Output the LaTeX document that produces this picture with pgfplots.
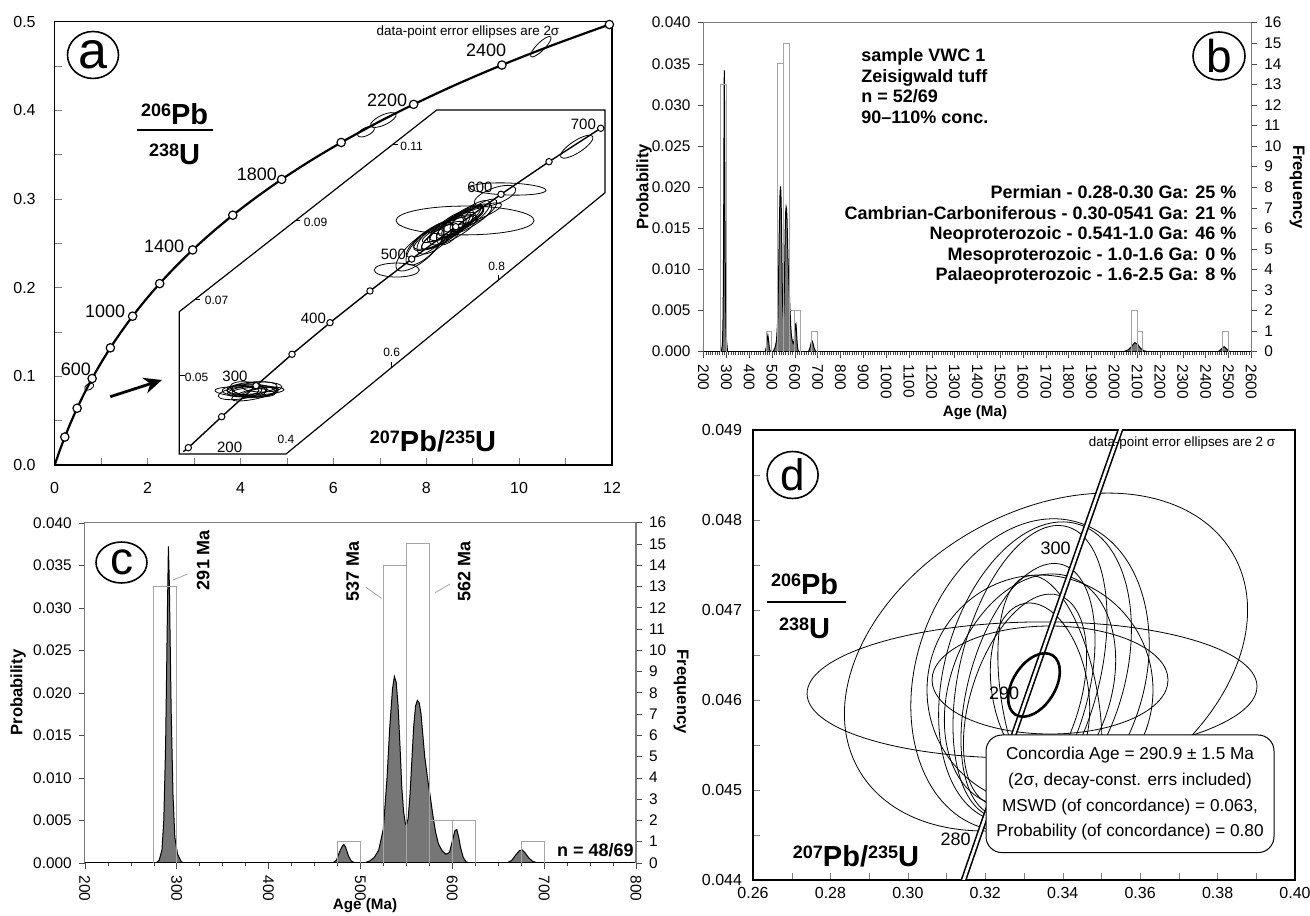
\documentclass[border=0pt]{standalone}
\usepackage{fontspec}
\setmainfont{Liberation Sans}
\usepackage{pgfplots}
\pgfplotsset{compat=1.18}
\usetikzlibrary{arrows.meta,shapes.geometric}

\definecolor{pdfill}{RGB}{118,118,118}
\definecolor{bargray}{RGB}{165,165,165}
\definecolor{framegray}{RGB}{125,125,125}

\newcommand{\fs}[1]{\fontsize{#1}{#1}\selectfont}
\newcommand{\isup}[1]{\raisebox{0.28em}{\fontsize{9}{9}\selectfont #1}}
% error ellipse: x, y (axis units), semi-axes (pt), rotation (deg)
\newcommand{\elp}[5]{\draw[line width=0.4pt, rotate around={#5:(axis cs:#1,#2)}] (axis cs:#1,#2) ellipse [x radius=#3pt, y radius=#4pt];}

\pgfplotsset{
  every axis/.append style={scale only axis, anchor=south west, scaled ticks=false,
    /pgf/number format/assume math mode=true,
    tick label style={font=\fs{8}},
    axis line style={line width=0.6pt}},
  histo/.style={xmin=200, ymin=0, ymax=0.04, xtick distance=100, ytick distance=0.005,
    tick align=outside, tick pos=left, axis line style={framegray},
    every tick/.append style={black!70}, major tick length=3pt, minor tick length=1.6pt,
    xticklabel style={rotate=-90, anchor=west, /pgf/number format/1000 sep={}},
    yticklabel style={/pgf/number format/fixed, /pgf/number format/fixed zerofill,
      /pgf/number format/precision=3},
    tick label style={font=\fs{7.7}}},
  freq/.style={xmin=200, ymin=0, ymax=16, ytick distance=1, axis x line=none,
    axis y line*=right, tick align=outside, axis line style={framegray},
    every tick/.append style={black!70}, major tick length=3pt, tick label style={font=\fs{7.7}}},
  bar/.style={bargray, line width=0.5pt},
}

\begin{document}
\begin{tikzpicture}
\useasboundingbox (0,0) rectangle (655pt,457.5pt);

%% ---------------- panel a ----------------
\begin{axis}[at={(27.35pt,225pt)}, width=278.65pt, height=221.65pt,
  xmin=0, xmax=12, ymin=0, ymax=0.5,
  xtick={0,2,4,6,8,10,12}, ytick={0,0.1,0.2,0.3,0.4,0.5},
  minor x tick num=1, minor y tick num=1,
  tick align=inside, tick pos=left, major tick length=3.5pt, minor tick length=3.5pt,
  yticklabel style={/pgf/number format/fixed, /pgf/number format/fixed zerofill,
    /pgf/number format/precision=1, xshift=-6pt},
  xticklabel style={yshift=-5pt}]
% inset frame
\addplot[black, line width=0.6pt] coordinates {(2.683,0.1729) (8.226,0.4004) (11.85,0.4004)
  (11.85,0.3071) (4.981,0.01241) (2.683,0.01241) (2.683,0.1729)};
\draw[line width=0.5pt] (axis cs:2.683,0.1004) -- (axis cs:2.806,0.1004);
\draw[line width=0.5pt] (axis cs:3.021,0.1868) -- (axis cs:3.129,0.1868);
\draw[line width=0.5pt] (axis cs:5.174,0.2752) -- (axis cs:5.282,0.2752);
\draw[line width=0.5pt] (axis cs:7.285,0.3618) -- (axis cs:7.393,0.3618);
\draw[line width=0.5pt] (axis cs:7.257,0.1101) -- (axis cs:7.257,0.1157);
\draw[line width=0.5pt] (axis cs:9.552,0.2085) -- (axis cs:9.552,0.2142);
% inset ellipses near 300 Ma
\elp{4.210}{0.0838}{14}{3}{0}
\elp{4.098}{0.0823}{15}{2.5}{-3}
\elp{4.248}{0.0868}{12.5}{3}{5}
\elp{4.464}{0.0880}{10}{2.5}{0}
\elp{3.990}{0.0812}{11}{3}{8}
\elp{4.313}{0.0801}{12}{2.5}{12}
\elp{4.162}{0.0857}{9}{3.5}{-8}
\elp{4.377}{0.0835}{13}{2}{3}
\elp{4.150}{0.0830}{10}{2.5}{6}
\elp{4.280}{0.0845}{11}{3}{-4}
\elp{4.050}{0.0840}{8}{2.5}{0}
\elp{4.400}{0.0815}{9}{2}{10}
% inset ellipses 500-700 Ma
\elp{8.836}{0.2758}{34.5}{7.2}{0}
\elp{9.761}{0.3113}{19}{3}{-2}
\elp{9.481}{0.3034}{11}{4}{20}
\elp{7.364}{0.2199}{11.3}{3.5}{0}
\elp{8.081}{0.2538}{14}{4.5}{35}
\elp{8.297}{0.2605}{15}{4}{30}
\elp{8.512}{0.2673}{12.5}{4.5}{38}
\elp{8.728}{0.2741}{14}{3.5}{33}
\elp{8.943}{0.2808}{12}{4}{36}
\elp{8.404}{0.2628}{17.5}{5}{25}
\elp{8.620}{0.2707}{16}{3}{30}
\elp{8.189}{0.2560}{11}{5}{40}
\elp{8.836}{0.2763}{15}{4.5}{28}
\elp{7.973}{0.2470}{12.5}{5}{45}
\elp{9.159}{0.2854}{10}{3.5}{35}
\elp{7.866}{0.2425}{15}{5.5}{40}
\elp{9.051}{0.2831}{14}{3}{20}
\elp{8.512}{0.2651}{9}{4.5}{50}
\elp{8.350}{0.2590}{12}{3.5}{32}
\elp{8.570}{0.2690}{13}{4}{28}
\elp{8.780}{0.2780}{11}{3.5}{34}
\elp{8.250}{0.2570}{10}{3}{36}
\elp{8.680}{0.2720}{10}{4}{40}
\elp{8.460}{0.2660}{14}{3}{26}
\elp{8.900}{0.2790}{9}{3}{30}
\elp{11.240}{0.3590}{9.5}{3}{33}
% inset concordia
\addplot[black, line width=0.7pt] coordinates {(2.769,0.0150) (2.877,0.01951) (3.596,0.05448)
  (4.335,0.08944) (5.110,0.1249) (5.928,0.1605) (6.789,0.1963) (7.687,0.2323) (8.635,0.2688)
  (9.610,0.3053) (10.644,0.3421) (11.757,0.3798)};
\addplot[only marks, mark=*, mark size=1.6pt, mark options={fill=white, draw=black, line width=0.5pt}]
  coordinates {(2.877,0.01951) (3.596,0.05448) (4.335,0.08944) (5.110,0.1249) (5.928,0.1605)
  (6.789,0.1963) (7.687,0.2323) (8.635,0.2688) (9.610,0.3053) (10.644,0.3421) (11.757,0.3798)};
% main concordia
\elp{7.076}{0.3891}{7}{2.5}{25}
\elp{6.703}{0.3759}{4.5}{2}{25}
\elp{10.467}{0.4718}{7}{2}{45}
\elp{0.743}{0.0883}{2.5}{1.5}{30}
\addplot[black, line width=1.1pt, smooth] coordinates {
  (0,0) (0.1035,0.015633) (0.2177,0.031510) (0.3438,0.047637) (0.4828,0.064022)
  (0.6363,0.080650) (0.8056,0.097544) (0.9925,0.114702) (1.1987,0.132133) (1.4263,0.149828)
  (1.6774,0.167810) (1.9545,0.186052) (2.2603,0.204592) (2.5977,0.223425) (2.9701,0.242565)
  (3.3810,0.261971) (3.8344,0.281728) (4.3348,0.301738) (4.8869,0.322125) (5.4962,0.342771)
  (6.1685,0.363748) (6.9105,0.385108) (7.7292,0.406736) (8.6326,0.428806) (9.6296,0.451110)
  (10.7297,0.473722) (11.9434,0.496816)};
\addplot[only marks, mark=*, mark size=2.1pt, mark options={fill=white, draw=black, line width=0.6pt}]
  coordinates {(0.2177,0.031510) (0.4828,0.064022) (0.8056,0.097544) (1.1987,0.132133)
  (1.6774,0.167810) (2.2603,0.204592) (2.9701,0.242565) (3.8344,0.281728) (4.8869,0.322125)
  (6.1685,0.363748) (7.7292,0.406736) (9.6296,0.451110) (11.9434,0.496816)};
\end{axis}

\node[ellipse, draw, line width=0.8pt, minimum width=25.5pt, minimum height=23.5pt, inner sep=0pt, font=\fs{26}] at (46.5pt,430pt) {a};
\node[font=\fs{6.7}] at (234pt,441.7pt) {data-point error ellipses are 2σ};
\begin{scope}[every node/.style={font=\fs{9}}]
\node at (37.9pt,272.8pt) {600};
\node at (52.6pt,301.7pt) {1000};
\node at (82.1pt,334.5pt) {1400};
\node at (128.4pt,370.5pt) {1800};
\node at (193.6pt,407.5pt) {2200};
\node at (243.1pt,432.2pt) {2400};
\end{scope}
\begin{scope}[every node/.style={font=\fs{7.5}}]
\node[anchor=west] at (105pt,233.7pt) {200};
\node at (117.5pt,269.2pt) {300};
\node at (156.7pt,298.3pt) {400};
\node at (196.7pt,330.5pt) {500};
\node at (240pt,363.8pt) {600};
\node at (291.7pt,395.5pt) {700};
\end{scope}
\begin{scope}[every node/.style={font=\fs{6}}]
\node at (98.3pt,268.6pt) {0.05};
\node at (108.3pt,307.5pt) {0.07};
\node at (157.8pt,346.2pt) {0.09};
\node at (205.8pt,384.2pt) {0.11};
\node at (143pt,238pt) {0.4};
\node at (195.8pt,281.2pt) {0.6};
\node at (248.3pt,324.2pt) {0.8};
\end{scope}
\node[anchor=base, font=\bfseries\fs{14.5}] at (87.3pt,395pt) {\isup{206}Pb};
\draw[line width=1pt] (68.4pt,392.5pt) -- (106.3pt,392.5pt);
\node[anchor=base, font=\bfseries\fs{14.5}] at (87.3pt,375pt) {\isup{238}U};
\node[anchor=base, font=\bfseries\fs{14.5}] at (216.5pt,231.7pt) {\isup{207}Pb/\isup{235}U};
\draw[line width=1.4pt, -{Stealth[length=9pt,width=8pt]}] (55.15pt,259.15pt) -- (81pt,267.5pt);

%% ---------------- panel b ----------------
\begin{axis}[histo, at={(351.75pt,281.65pt)}, width=273.85pt, height=164.5pt,
  xmax=2600, minor x tick num=9]
\addplot[draw=black, line width=0.5pt, fill=pdfill] coordinates {
  (200,0) (278,0) (283,0.0009) (286,0.0046) (288,0.0129) (290,0.0276) (291,0.0342) (292,0.0304)
  (294,0.0166) (296,0.0074) (299,0.0020) (305,0.0001) (308,0) (470,0) (475,0.0005) (480,0.0017)
  (482,0.0020) (485,0.0014) (489,0.0003) (494,0) (505,0) (515,0.0006) (520,0.0014) (525,0.0037)
  (529,0.0092) (532,0.0147) (535,0.0189) (537,0.0201) (539,0.0195) (541,0.0170) (543,0.0129)
  (545,0.0083) (547,0.0055) (550,0.0040) (552,0.0048) (554,0.0074) (556,0.0110) (558,0.0147)
  (560,0.0169) (562,0.0176) (564,0.0173) (566,0.0161) (568,0.0138) (570,0.0115) (573,0.0092)
  (576,0.0072) (579,0.0051) (582,0.0032) (585,0.0020) (589,0.0013) (593,0.0010) (597,0.0013)
  (600,0.0024) (603,0.0033) (605,0.0034) (607,0.0027) (609,0.0016) (612,0.0005) (615,0.0001)
  (618,0) (660,0) (667,0.0005) (672,0.0011) (676,0.0013) (680,0.0010) (684,0.0005) (690,0.0001)
  (694,0) (2040,0) (2060,0.0002) (2075,0.0006) (2090,0.0011) (2102,0.0009) (2115,0.0004)
  (2130,0.0001) (2150,0) (2455,0) (2465,0.0002) (2475,0.0005) (2482,0.0006) (2490,0.0004)
  (2500,0.0001) (2510,0) (2600,0)} \closedcycle;
\end{axis}
\begin{axis}[freq, at={(351.75pt,281.65pt)}, width=273.85pt, height=164.5pt, xmax=2600]
\addplot[bar] coordinates {(275,0) (275,13) (300,13) (300,0)};
\addplot[bar] coordinates {(475,0) (475,1) (500,1) (500,0)};
\addplot[bar] coordinates {(525,0) (525,14) (550,14) (550,0)};
\addplot[bar] coordinates {(550,0) (550,15) (575,15) (575,0)};
\addplot[bar] coordinates {(575,0) (575,2) (600,2) (600,0)};
\addplot[bar] coordinates {(600,0) (600,2) (625,2) (625,0)};
\addplot[bar] coordinates {(675,0) (675,1) (700,1) (700,0)};
\addplot[bar] coordinates {(2075,0) (2075,2) (2100,2) (2100,0)};
\addplot[bar] coordinates {(2100,0) (2100,1) (2125,1) (2125,0)};
\addplot[bar] coordinates {(2475,0) (2475,1) (2500,1) (2500,0)};
\end{axis}
\node[ellipse, draw, line width=0.8pt, minimum width=26pt, minimum height=24pt, inner sep=0pt, font=\fs{23}] at (609.5pt,429.5pt) {b};
\begin{scope}[every node/.style={font=\bfseries\fs{9}, inner sep=0pt}]
\node[anchor=base west] at (430.5pt,426.8pt) {sample VWC 1};
\node[anchor=base west] at (430.5pt,416.4pt) {Zeisigwald tuff};
\node[anchor=base west] at (430.5pt,406.1pt) {n = 52/69};
\node[anchor=base west] at (430.5pt,395.9pt) {90--110\% conc.};
\node[anchor=base east] at (618.4pt,358pt) {Permian - 0.28-0.30 Ga: 25 \%};
\node[anchor=base east] at (618.4pt,347.6pt) {Cambrian-Carboniferous - 0.30-0541 Ga: 21 \%};
\node[anchor=base east] at (618.4pt,337.6pt) {Neoproterozoic - 0.541-1.0 Ga: 46 \%};
\node[anchor=base east] at (618.4pt,327.3pt) {Mesoproterozoic - 1.0-1.6 Ga: 0 \%};
\node[anchor=base east] at (618.4pt,317.3pt) {Palaeoproterozoic - 1.6-2.5 Ga: 8 \%};
\end{scope}
\node[rotate=90, font=\bfseries\fs{8.3}] at (322pt,364pt) {Probability};
\node[rotate=-90, font=\bfseries\fs{8.3}] at (648.5pt,364pt) {Frequency};
\node[font=\bfseries\fs{7.6}] at (487.5pt,251pt) {Age (Ma)};

%% ---------------- panel c ----------------
\begin{axis}[histo, at={(42.4pt,26.15pt)}, width=275.6pt, height=170pt,
  xmax=800, minor x tick num=3]
\addplot[draw=black, line width=0.5pt, fill=pdfill] coordinates {
  (200,0) (278,0) (281,0.0003) (284,0.0015) (286,0.0050) (288,0.0140) (290,0.0300) (291,0.0372)
  (292,0.0330) (294,0.0180) (296,0.0080) (298,0.0030) (301,0.0010) (305,0.0001) (308,0)
  (470,0) (474,0.0003) (477,0.0012) (480,0.0019) (482,0.00215) (484,0.0018) (487,0.0008)
  (490,0.0002) (494,0) (505,0) (510,0.0002) (515,0.0006) (520,0.0015) (525,0.0040) (529,0.0100)
  (532,0.0160) (535,0.0205) (537,0.0219) (539,0.0212) (541,0.0185) (543,0.0140) (545,0.0090)
  (547,0.0060) (549,0.0046) (550,0.0044) (552,0.0052) (554,0.0080) (556,0.0120) (558,0.0160)
  (560,0.0184) (562,0.0191) (564,0.0188) (566,0.0175) (568,0.0150) (570,0.0125) (573,0.0100)
  (576,0.0078) (579,0.0055) (582,0.0035) (585,0.0022) (589,0.0014) (593,0.0010) (597,0.0012)
  (600,0.0025) (603,0.0038) (605,0.0039) (607,0.0030) (609,0.0018) (612,0.0006) (615,0.0001)
  (618,0) (660,0) (665,0.0003) (669,0.0009) (673,0.0014) (676,0.0015) (679,0.0012) (683,0.0006)
  (687,0.0002) (692,0) (800,0)} \closedcycle;
\end{axis}
\begin{axis}[freq, at={(42.4pt,26.15pt)}, width=275.6pt, height=170pt, xmax=800]
\addplot[bar] coordinates {(275,0) (275,13) (300,13) (300,0)};
\addplot[bar] coordinates {(475,0) (475,1) (500,1) (500,0)};
\addplot[bar] coordinates {(525,0) (525,14) (550,14) (550,0)};
\addplot[bar] coordinates {(550,0) (550,15) (575,15) (575,0)};
\addplot[bar] coordinates {(575,0) (575,2) (600,2) (600,0)};
\addplot[bar] coordinates {(600,0) (600,2) (625,2) (625,0)};
\addplot[bar] coordinates {(675,0) (675,1) (700,1) (700,0)};
\end{axis}
\node[ellipse, draw, line width=0.8pt, minimum width=25.5pt, minimum height=20.5pt, inner sep=0pt, font=\fs{23}] at (60.75pt,176.25pt) {c};
\begin{scope}[every node/.style={font=\bfseries\fs{9}, rotate=90}]
\node at (101.6pt,177.5pt) {291 Ma};
\node at (176.3pt,171.7pt) {537 Ma};
\node at (232.1pt,171.7pt) {562 Ma};
\end{scope}
\draw[bargray, line width=0.4pt] (86.6pt,167.5pt) -- (93.75pt,170.5pt);
\draw[bargray, line width=0.4pt] (183pt,163.8pt) -- (190.8pt,158.3pt);
\draw[bargray, line width=0.4pt] (217.6pt,161.2pt) -- (225pt,165.5pt);
\node[anchor=base east, font=\bfseries\fs{9}, inner sep=0pt] at (317pt,29.3pt) {n = 48/69};
\node[rotate=90, font=\bfseries\fs{8.3}] at (9pt,111.2pt) {Probability};
\node[rotate=-90, font=\bfseries\fs{8.3}] at (340.5pt,111.6pt) {Frequency};
\node[font=\bfseries\fs{7.6}] at (182.5pt,4.6pt) {Age (Ma)};

%% ---------------- panel d ----------------
\begin{axis}[at={(376.5pt,17.5pt)}, width=271pt, height=225pt,
  xmin=0.26, xmax=0.40, ymin=0.044, ymax=0.049,
  xtick={0.26,0.28,0.30,0.32,0.34,0.36,0.38,0.40},
  ytick={0.044,0.045,0.046,0.047,0.048,0.049},
  minor x tick num=1, minor y tick num=1,
  tick align=inside, tick pos=left, major tick length=3.5pt, minor tick length=3.5pt,
  xticklabel style={/pgf/number format/fixed, /pgf/number format/fixed zerofill,
    /pgf/number format/precision=2},
  yticklabel style={/pgf/number format/fixed, /pgf/number format/fixed zerofill,
    /pgf/number format/precision=3, xshift=-2pt}]
\elp{0.33568}{0.046422}{108}{75}{30}
\elp{0.33207}{0.046111}{112.5}{34}{1}
\elp{0.33672}{0.046222}{59}{27}{0}
\elp{0.33413}{0.046111}{56.5}{57.5}{0}
\elp{0.33155}{0.046278}{80}{57}{72}
\elp{0.33284}{0.046311}{77}{45}{74}
\elp{0.33155}{0.046311}{75}{35}{76}
\elp{0.33103}{0.046111}{65}{30}{75}
\elp{0.33026}{0.046000}{55}{27}{72}
\elp{0.33155}{0.046111}{60}{40}{70}
\elp{0.33413}{0.046111}{24}{44}{10}
\elp{0.33670}{0.046000}{24}{63}{10}
\addplot[draw=black, double=white, line width=0.8pt, double distance=1.3pt, smooth] coordinates {
  (0.31106,0.043582) (0.31753,0.044392) (0.32403,0.045202) (0.33057,0.046014)
  (0.33714,0.046825) (0.34375,0.047637) (0.35037,0.048450) (0.35704,0.049264)};
\draw[line width=1.3pt, rotate around={58:(axis cs:0.33258,0.046167)}] (axis cs:0.33258,0.046167) ellipse [x radius=17.5pt, y radius=10.6pt];
\end{axis}
\node[ellipse, draw, line width=0.8pt, minimum width=25.5pt, minimum height=23.5pt, inner sep=0pt, font=\fs{22}] at (396.3pt,220pt) {d};
\node[font=\fs{6.7}] at (591pt,235.8pt) {data-point error ellipses are 2 σ};
\begin{scope}[every node/.style={font=\fs{9}}]
\node at (477.8pt,37.8pt) {280};
\node at (502.1pt,110.8pt) {290};
\node at (527.8pt,183.3pt) {300};
\end{scope}
\node[anchor=base, font=\bfseries\fs{14.5}] at (402.3pt,160pt) {\isup{206}Pb};
\draw[line width=1pt] (383.5pt,156.7pt) -- (423pt,156.7pt);
\node[anchor=base, font=\bfseries\fs{14.5}] at (402.3pt,138.3pt) {\isup{238}U};
\node[anchor=base, font=\bfseries\fs{14.5}] at (428pt,24.2pt) {\isup{207}Pb/\isup{235}U};
\node[draw, rounded corners=8pt, fill=white, line width=0.5pt, minimum width=144pt, minimum height=58.8pt,
  align=center, font=\fontsize{8.6}{12.8}\selectfont] at (565pt,60.6pt)
  {Concordia Age = 290.9 ± 1.5 Ma\\(2σ, decay-const. errs included)\\MSWD (of concordance) = 0.063,\\Probability (of concordance) = 0.80};
\end{tikzpicture}
\end{document}
